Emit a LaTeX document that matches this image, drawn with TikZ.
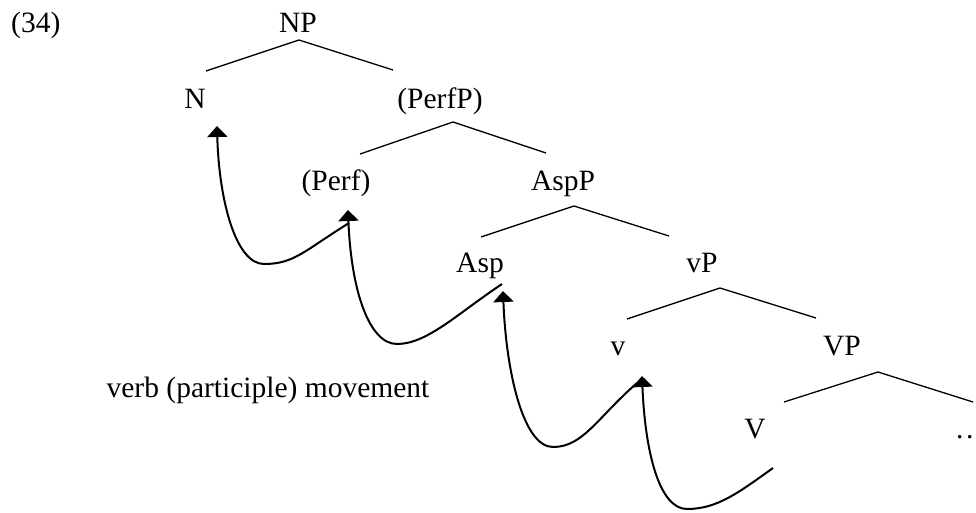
\documentclass[tikz,border=0pt]{standalone}
\usepackage{fontspec}
\setmainfont{Liberation Serif}
\usetikzlibrary{arrows.meta}
\begin{document}
\begin{tikzpicture}[x=1pt,y=-1pt,
  lbl/.style={anchor=base, inner sep=0pt, font=\fontsize{29.5}{35}\selectfont},
  branch/.style={line width=1.3pt},
  mv/.style={line width=2pt, -{Triangle[width=20pt,length=11pt]}}]
\useasboundingbox (0,0) rectangle (976,512);
% labels
\node[lbl, anchor=base west] (ex) at (11,32) {(34)};
\node[lbl] (NP) at (298,32) {NP};
\node[lbl] (N) at (195,108) {N};
\node[lbl] (PerfP) at (440,108) {(PerfP)};
\node[lbl] (Perf) at (336,190) {(Perf)};
\node[lbl] (AspP) at (563,190) {AspP};
\node[lbl] (Asp) at (480,272) {Asp};
\node[lbl] (vP) at (702,272) {vP};
\node[lbl] (v) at (618,355) {v};
\node[lbl] (VP) at (842,355) {VP};
\node[lbl] (V) at (755,438) {V};
\node[lbl, anchor=base west] (dots) at (956,438) {.\kern2.5pt.};
\node[lbl] (cap) at (268,397) {verb (participle) movement};
% branch points
\coordinate (NPa) at (299,40);  \coordinate (NPl) at (206,71);  \coordinate (NPr) at (393,70);
\coordinate (PPa) at (453,122); \coordinate (PPl) at (360,154); \coordinate (PPr) at (546,153);
\coordinate (APa) at (574,206); \coordinate (APl) at (481,237); \coordinate (APr) at (669,236);
\coordinate (vPa) at (720,288); \coordinate (vPl) at (627,319); \coordinate (vPr) at (816,318);
\coordinate (VPa) at (878,372); \coordinate (VPl) at (784,402); \coordinate (VPr) at (973,402);
\draw[branch] (NPl) -- (NPa) -- (NPr);
\draw[branch] (PPl) -- (PPa) -- (PPr);
\draw[branch] (APl) -- (APa) -- (APr);
\draw[branch] (vPl) -- (vPa) -- (vPr);
\draw[branch] (VPl) -- (VPa) -- (VPr);
% movement arrows
\coordinate (As) at (349,223); \coordinate (At) at (264,264); \coordinate (Ae) at (217,126);
\coordinate (Bs) at (502,284); \coordinate (Bt) at (397,344); \coordinate (Be) at (348,210);
\coordinate (Cs) at (637,383); \coordinate (Ct) at (553,447); \coordinate (Ce) at (503,291);
\coordinate (Ds) at (773,468); \coordinate (Dt) at (687,509); \coordinate (De) at (642,376);
\draw[mv] (As) .. controls +(-45,28) and +(30,0) .. (At) .. controls +(-28,0) and +(2,75) .. (Ae);
\draw[mv] (Bs) .. controls +(-45,30) and +(30,0) .. (Bt) .. controls +(-28,0) and +(3,80) .. (Be);
\draw[mv] (Cs) .. controls +(-40,35) and +(30,0) .. (Ct) .. controls +(-30,0) and +(3,80) .. (Ce);
\draw[mv] (Ds) .. controls +(-35,25) and +(30,0) .. (Dt) .. controls +(-28,0) and +(3,75) .. (De);
\end{tikzpicture}
\end{document}
